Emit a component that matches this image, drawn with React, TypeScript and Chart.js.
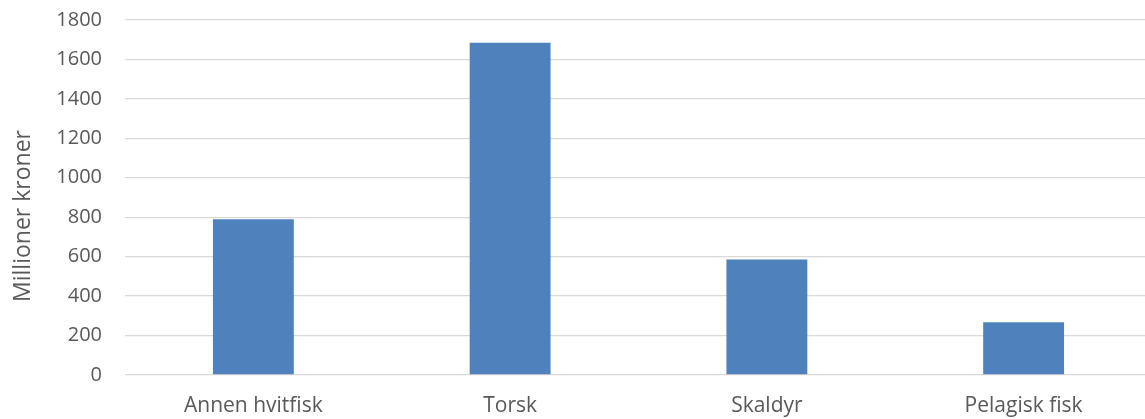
import React, { useEffect, useRef } from "react";
import { Chart, registerables } from "chart.js";

Chart.register(...registerables);

const categories = ["Annen hvitfisk", "Torsk", "Skaldyr", "Pelagisk fisk"];
const values = [790, 1685, 586, 268];
const yTicks = [0, 200, 400, 600, 800, 1000, 1200, 1400, 1600, 1800];
const yTitle = "Millioner kroner";

const FONT = "'Open Sans', 'Noto Sans', sans-serif";

const yTitlePlugin = {
  id: "yTitleOffset",
  afterDraw(chart: any) {
    const c = chart.ctx;
    c.save();
    c.fillStyle = "#595959";
    c.font = `23px ${FONT}`;
    c.textAlign = "center";
    c.textBaseline = "middle";
    c.translate(23, 216);
    c.rotate(-Math.PI / 2);
    c.fillText(yTitle, 0, 0);
    c.restore();
  },
};

export default function App() {
  const ref = useRef<HTMLCanvasElement | null>(null);

  useEffect(() => {
    document.body.style.margin = "0";
    const ctx = ref.current;
    if (!ctx) return;
    const chart = new Chart(ctx, {
      type: "bar",
      data: {
        labels: categories,
        datasets: [
          {
            data: values,
            backgroundColor: "#4F81BD",
            borderWidth: 0,
            categoryPercentage: 1,
            barPercentage: 0.315,
          },
        ],
      },
      plugins: [yTitlePlugin],
      options: {
        animation: false,
        responsive: false,
        maintainAspectRatio: false,
        layout: { padding: { top: 20, left: 0, right: 0, bottom: 0 } },
        plugins: {
          legend: { display: false },
          tooltip: { enabled: false },
        },
        scales: {
          x: {
            grid: { display: false },
            border: { display: false },
            ticks: {
              color: "#595959",
              font: { family: FONT, size: 21 },
              padding: 10,
              maxRotation: 0,
            },
            afterFit: (scale: any) => {
              scale.height = 44;
              scale.paddingTop = 0;
              scale.paddingBottom = 0;
            },
          },
          y: {
            min: 0,
            max: 1800,
            afterBuildTicks: (scale: any) => {
              scale.ticks = yTicks.map((v) => ({ value: v }));
            },
            grid: { color: "#D9D9D9", lineWidth: 1.3, drawTicks: false },
            border: { display: false },
            ticks: {
              color: "#595959",
              font: { family: FONT, size: 20 },
              padding: 23,
              callback: (v: any) => String(v),
            },
            title: { display: false },
            afterFit: (scale: any) => {
              scale.width = 125;
              scale.paddingTop = 0;
              scale.paddingBottom = 0;
            },
          },
        },
      },
    });
    return () => chart.destroy();
  }, []);

  return (
    <div
      style={{
        position: "absolute",
        left: 0,
        top: 0,
        width: 1145,
        height: 419,
        overflow: "hidden",
        background: "#fff",
      }}
    >
      <canvas ref={ref} width={1152} height={419} style={{ width: 1152, height: 419 }} />
    </div>
  );
}
